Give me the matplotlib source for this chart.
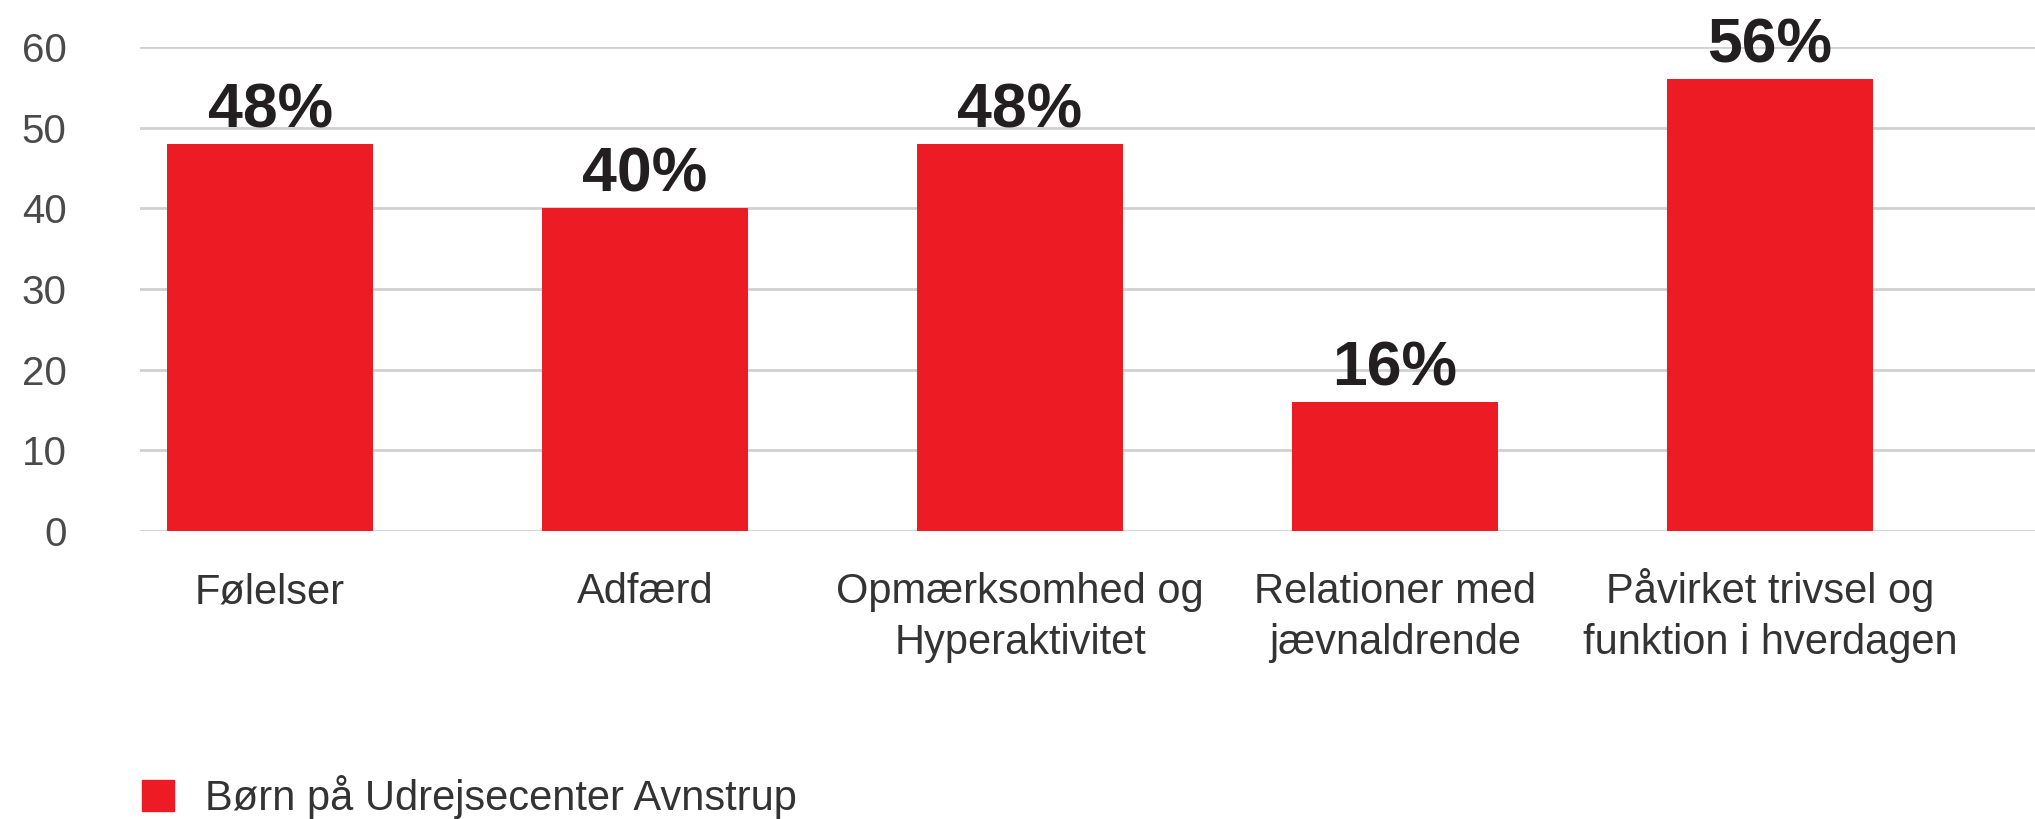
import matplotlib
matplotlib.use('Agg')
import matplotlib.pyplot as plt
from matplotlib.patches import Patch

categories = ['Følelser', 'Adfærd', 'Opmærksomhed og\nHyperaktivitet',
              'Relationer med\njævnaldrende', 'Påvirket trivsel og\nfunktion i hverdagen']
values = [48, 40, 48, 16, 56]
y_ticks = [0, 10, 20, 30, 40, 50, 60]
series_name = 'Børn på Udrejsecenter Avnstrup'

RED = '#ED1C24'
GRID = '#d0d0d0'
TEXT = '#231F20'

W, H, DPI = 2035, 819, 100
PT = DPI / 72.0
fig = plt.figure(figsize=(W / DPI, H / DPI), dpi=DPI)
ax = fig.add_axes([140 / W, 1 - 531 / H, 1 - 140 / W, (531 - 47) / H])

x = list(range(len(categories)))
ax.bar(x, values, width=0.55, color=RED, zorder=3)

for xi, v in zip(x, values):
    ax.annotate(f'{v}%', (xi, v), xytext=(0, 12), textcoords='offset points',
                ha='center', va='baseline', fontsize=45, fontweight='bold',
                family='Liberation Sans', color=TEXT, zorder=4)

# category labels, one line at a time so every first line sits on one baseline
for xi, name in zip(x, categories):
    for i, line in enumerate(name.split('\n')):
        ax.annotate(line, (xi, 0), xycoords=('data', 'axes fraction'),
                    xytext=(0, -(72 + 51 * i) / PT), textcoords='offset points',
                    ha='center', va='baseline', fontsize=30,
                    family='Liberation Sans', color='#333333',
                    annotation_clip=False)

ax.set_ylim(0, 60)
ax.set_xlim(-0.347, 4.707)
ax.set_yticks(y_ticks)
ax.set_yticklabels([str(t) for t in y_ticks], family='Liberation Sans',
                   fontsize=29, color='#4a4a4a')
ax.set_xticks(x)
ax.set_xticklabels([])
ax.tick_params(axis='y', length=0, pad=53)
ax.tick_params(axis='x', length=0)
ax.yaxis.grid(True, color=GRID, linewidth=2.0, zorder=0)
ax.set_axisbelow(True)
for s in ax.spines.values():
    s.set_visible(False)

fig.legend(handles=[Patch(color=RED, label=series_name)], loc='center left',
           bbox_to_anchor=(142 / W, 1 - 797 / H), frameon=False,
           borderpad=0, borderaxespad=0, handlelength=0.77, handleheight=0.77,
           handletextpad=0.74, prop={'family': 'Liberation Sans', 'size': 30},
           labelcolor='#333333')

fig.savefig('out.png', dpi=DPI, facecolor='white')
